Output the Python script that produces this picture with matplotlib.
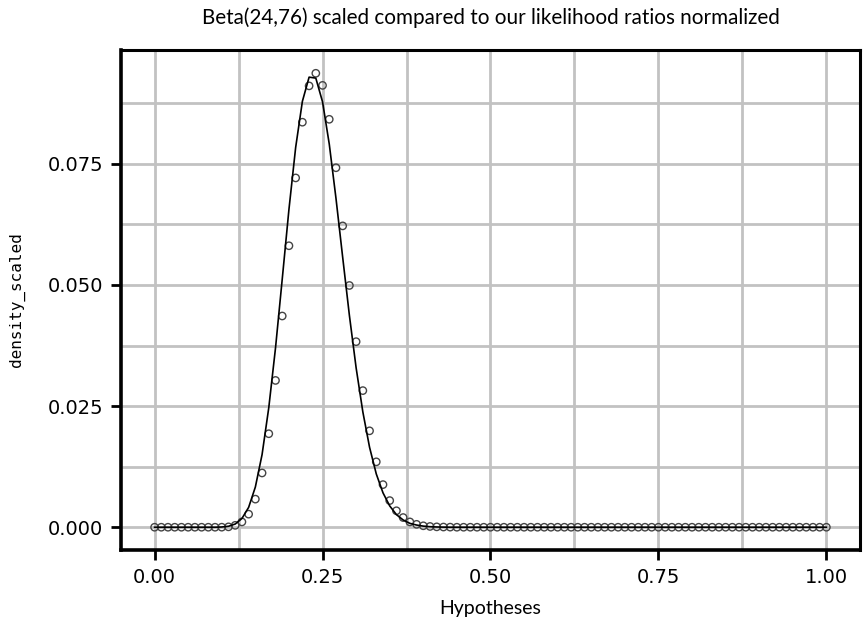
import numpy as np
import matplotlib
matplotlib.use('Agg')
import matplotlib.pyplot as plt
from matplotlib.ticker import MultipleLocator

# hypotheses 0.00 .. 1.00 in steps of 0.01
hypotheses = np.round(np.arange(101) * 0.01, 2)

# likelihood ratios normalized (points)
likelihood_norm = [
    0.0, 0.0, 0.0, 0.0, 0.0, 0.0, 0.0, 0.0, 0.0, 0.0,          # 0.00-0.09
    0.00001, 0.00008, 0.00039, 0.0011, 0.0027, 0.0058, 0.0112, 0.0193, 0.0303, 0.0436,  # 0.10-0.19
    0.0581, 0.0721, 0.0836, 0.0911, 0.0937, 0.0912, 0.0842, 0.0742, 0.0622, 0.0499,  # 0.20-0.29
    0.0383, 0.0282, 0.0199, 0.0135, 0.0088, 0.0055, 0.0034, 0.0020, 0.0011, 0.0006,  # 0.30-0.39
    0.0003, 0.00016, 0.00008, 0.00004, 0.00002, 0.0, 0.0, 0.0, 0.0, 0.0,  # 0.40-0.49
    0.0, 0.0, 0.0, 0.0, 0.0, 0.0, 0.0, 0.0, 0.0, 0.0,
    0.0, 0.0, 0.0, 0.0, 0.0, 0.0, 0.0, 0.0, 0.0, 0.0,
    0.0, 0.0, 0.0, 0.0, 0.0, 0.0, 0.0, 0.0, 0.0, 0.0,
    0.0, 0.0, 0.0, 0.0, 0.0, 0.0, 0.0, 0.0, 0.0, 0.0,
    0.0, 0.0, 0.0, 0.0, 0.0, 0.0, 0.0, 0.0, 0.0, 0.0,
    0.0,
]

# Beta(24,76) density scaled (line)
beta_scaled = [
    0.0, 0.0, 0.0, 0.0, 0.0, 0.0, 0.0, 0.0, 0.0, 0.0,
    0.00005, 0.0002, 0.00066, 0.0018, 0.0041, 0.0083, 0.0150, 0.0247, 0.0370, 0.0512,
    0.0656, 0.0784, 0.0879, 0.0929, 0.0927, 0.0878, 0.0791, 0.0679, 0.0557, 0.0437,
    0.0329, 0.0238, 0.0165, 0.0110, 0.0071, 0.0044, 0.0026, 0.0015, 0.0008, 0.00045,
    0.00023, 0.00011, 0.00005, 0.00002, 0.0, 0.0, 0.0, 0.0, 0.0, 0.0,
    0.0, 0.0, 0.0, 0.0, 0.0, 0.0, 0.0, 0.0, 0.0, 0.0,
    0.0, 0.0, 0.0, 0.0, 0.0, 0.0, 0.0, 0.0, 0.0, 0.0,
    0.0, 0.0, 0.0, 0.0, 0.0, 0.0, 0.0, 0.0, 0.0, 0.0,
    0.0, 0.0, 0.0, 0.0, 0.0, 0.0, 0.0, 0.0, 0.0, 0.0,
    0.0, 0.0, 0.0, 0.0, 0.0, 0.0, 0.0, 0.0, 0.0, 0.0,
    0.0,
]

plt.rcParams['font.family'] = ['Lato', 'DejaVu Sans']

fig = plt.figure(figsize=(8.63, 6.26), dpi=100)
ax = fig.add_axes([0.1402, 0.1214, 0.8563, 0.7987])

ax.scatter(hypotheses, likelihood_norm, s=28, facecolors='none',
           edgecolors='#444444', linewidths=1.0, zorder=3)
ax.plot(hypotheses, beta_scaled, color='black', linewidth=1.2, zorder=4)

ax.set_xlim(-0.05, 1.05)
ax.set_ylim(-0.0047, 0.0985)

ax.xaxis.set_minor_locator(MultipleLocator(0.125))
ax.yaxis.set_minor_locator(MultipleLocator(0.0125))
ax.set_xticks([0, 0.25, 0.5, 0.75, 1.0])
ax.set_xticklabels(['0.00', '0.25', '0.50', '0.75', '1.00'])
ax.set_yticks([0, 0.025, 0.05, 0.075])
ax.set_yticklabels(['0.000', '0.025', '0.050', '0.075'])

ax.grid(True, which='both', color='#c2c2c2', linewidth=2.0, zorder=0)
ax.set_axisbelow(True)

for s in ax.spines.values():
    s.set_linewidth(2.2)
    s.set_color('black')
ax.spines['left'].set_linewidth(2.6)
ax.spines['bottom'].set_linewidth(2.6)

ax.tick_params(which='major', length=7, width=2, color='black', pad=6)
ax.tick_params(which='minor', length=0)
for lab in ax.get_xticklabels() + ax.get_yticklabels():
    lab.set_family(['DejaVu Sans'])
    lab.set_fontsize(14)

ax.set_xlabel('Hypotheses', fontsize=14, labelpad=9)
ax.set_ylabel('density_scaled', fontsize=11.5, family='DejaVu Sans Mono', labelpad=16)
ax.set_title('Beta(24,76) scaled compared to our likelihood ratios normalized',
             fontsize=14.9, pad=19)

fig.savefig('out.png', dpi=100, facecolor='white')
